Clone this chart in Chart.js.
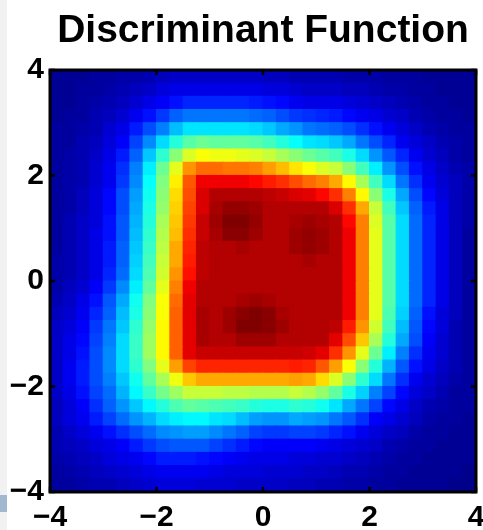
<!DOCTYPE html>
<html>
<head>
<meta charset="utf-8">
<script src="https://cdn.jsdelivr.net/npm/chart.js@4.4.1/dist/chart.umd.min.js"></script>
<style>
  html, body { margin: 0; padding: 0; background: #fff; }
  #wrap { position: relative; width: 483px; height: 530px; overflow: hidden; }
  #strip { position: absolute; left: 0; top: 0; width: 7px; height: 530px; background: #f1f1f1; }
  #block { position: absolute; left: 0; top: 495px; width: 7px; height: 17px; background: #a2b8cf; }
  canvas { position: absolute; left: 0; top: 0; }
</style>
</head>
<body>
<div id="wrap">
  <div id="strip"></div>
  <div id="block"></div>
  <canvas id="chart" width="483" height="530"></canvas>
</div>
<script>
// Discriminant function heatmap (jet colormap)

const titleText = 'Discriminant Function';
const tickValues = [-4, -2, 0, 2, 4];

// cell centres, step 0.25
const xCells = [-3.875, -3.625, -3.375, -3.125, -2.875, -2.625, -2.375, -2.125,
  -1.875, -1.625, -1.375, -1.125, -0.875, -0.625, -0.375, -0.125,
  0.125, 0.375, 0.625, 0.875, 1.125, 1.375, 1.625, 1.875,
  2.125, 2.375, 2.625, 2.875, 3.125, 3.375, 3.625, 3.875];
const yCells = [3.875, 3.625, 3.375, 3.125, 2.875, 2.625, 2.375, 2.125,
  1.875, 1.625, 1.375, 1.125, 0.875, 0.625, 0.375, 0.125,
  -0.125, -0.375, -0.625, -0.875, -1.125, -1.375, -1.625, -1.875,
  -2.125, -2.375, -2.625, -2.875, -3.125, -3.375, -3.625, -3.875];

// function value (0-100), one row per yCells entry, top row first
const z = [
  [2,2,2,3,3,4,4,5,6,7,7,7,7,7,7,7,6,6,5,5,5,5,4,4,4,3,3,3,2,2,2,2],
  [2,2,3,3,4,5,6,7,9,10,10,10,10,10,10,10,9,9,8,7,7,7,6,6,5,4,4,3,3,2,2,2],
  [2,2,3,4,5,6,8,10,12,14,16,16,16,16,16,15,14,13,11,10,10,10,9,8,7,6,5,4,3,3,2,2],
  [2,3,3,5,6,8,11,14,18,22,24,24,24,24,24,23,22,20,18,17,16,15,13,11,10,8,7,5,4,3,3,2],
  [3,3,4,5,8,10,15,20,25,31,35,35,35,35,35,34,32,29,27,24,23,22,20,17,14,11,9,7,5,4,3,3],
  [3,3,5,6,9,12,19,26,34,41,46,48,47,47,47,46,44,41,38,35,34,32,29,24,20,16,11,9,7,5,4,3],
  [3,4,5,7,10,15,22,32,42,51,59,62,61,61,60,59,57,54,51,48,46,44,40,34,27,21,16,11,8,6,4,3],
  [3,4,5,8,11,17,25,36,48,60,73,77,77,76,76,75,72,69,65,62,59,57,51,44,36,27,20,14,10,7,5,4],
  [3,4,5,8,11,18,26,38,50,64,79,89,89,89,89,87,85,83,80,77,75,71,63,54,44,34,24,17,11,8,6,4],
  [3,4,6,9,13,20,28,39,51,66,80,91,95,95,95,95,94,93,91,90,87,83,75,63,51,40,29,20,13,9,6,4],
  [3,4,6,9,13,20,29,40,52,67,81,91,96,98,98,97,95,95,95,95,95,91,83,71,57,44,32,22,15,10,6,4],
  [3,5,7,9,14,21,30,41,54,68,82,93,97,100,100,98,95,95,96,97,96,95,87,75,59,46,34,23,16,10,6,4],
  [3,5,7,10,14,21,31,42,55,69,83,93,96,99,99,97,95,95,97,98,97,95,89,75,60,46,34,23,16,10,6,3],
  [3,5,7,10,15,22,32,43,56,71,84,94,95,95,96,95,95,95,97,98,97,95,89,75,60,46,34,23,16,10,6,3],
  [4,5,7,10,15,22,33,44,57,71,85,94,95,95,95,95,95,95,95,96,95,95,89,75,60,46,34,23,16,10,6,3],
  [4,5,7,10,16,23,34,45,58,73,86,94,95,95,95,95,95,95,95,95,95,95,89,75,60,46,34,23,16,10,6,3],
  [4,6,8,12,18,26,36,47,60,75,89,95,95,95,95,95,95,95,95,95,95,95,89,75,60,46,34,23,16,10,6,3],
  [5,7,10,14,21,29,39,50,62,77,90,95,95,95,96,97,96,95,95,95,95,95,89,75,60,46,34,23,16,10,6,3],
  [6,8,11,16,22,31,40,51,62,78,90,96,95,97,99,100,99,96,95,95,95,95,89,75,60,45,33,22,14,9,6,3],
  [7,9,12,18,24,32,42,52,63,78,90,96,95,97,100,100,99,97,95,95,95,94,85,73,58,44,31,21,13,9,5,3],
  [7,10,13,19,25,34,43,53,63,78,90,96,95,95,97,97,97,95,95,95,95,90,80,68,54,41,29,20,12,8,5,3],
  [7,10,14,20,26,34,43,53,63,78,90,93,93,93,93,93,93,93,93,92,90,83,73,60,48,36,25,17,11,8,5,3],
  [7,11,15,20,26,34,42,50,60,72,81,84,84,84,84,84,84,84,85,84,79,72,62,51,41,30,21,14,10,7,5,3],
  [7,11,15,20,25,32,39,47,54,61,68,71,71,71,71,71,71,71,72,71,66,59,51,42,34,24,17,11,8,6,4,3],
  [7,10,14,19,23,30,37,43,49,53,57,57,57,56,56,55,55,55,57,55,52,47,40,33,25,19,13,9,7,5,3,3],
  [6,9,12,17,22,27,32,37,41,45,47,46,45,44,43,41,40,40,42,41,39,35,29,24,19,13,10,7,5,4,3,3],
  [6,9,11,15,19,23,27,30,34,36,37,37,35,34,31,28,27,27,29,28,27,24,21,17,12,10,8,6,4,3,3,2],
  [5,7,9,11,14,17,20,23,26,27,28,28,26,24,22,19,18,18,19,19,18,16,14,11,9,7,6,4,3,3,2,2],
  [5,6,7,9,10,12,15,18,20,21,21,21,19,17,15,13,12,12,12,12,11,10,9,8,7,5,4,3,3,2,2,2],
  [4,5,6,7,9,10,11,13,15,15,15,14,13,12,11,10,10,10,9,9,8,8,7,6,5,4,3,3,2,2,2,2],
  [3,4,5,6,7,8,9,10,11,11,11,11,10,9,9,9,8,8,8,7,7,6,5,5,4,3,3,2,2,2,2,1],
  [3,3,4,5,5,6,7,8,9,9,9,8,8,8,7,7,7,7,6,6,5,5,4,4,3,3,2,2,2,2,1,1]
];

// MATLAB-style jet colormap
function jet(t) {
  const f = k => Math.round(255 * Math.min(1, Math.max(0, 1.5 - Math.abs(4 * t - k))));
  return `rgb(${f(3)},${f(2)},${f(1)})`;
}

const points = [];
const colors = [];
yCells.forEach((y, r) => {
  xCells.forEach((x, c) => {
    points.push({ x: x, y: y });
    colors.push(jet(z[r][c] / 100));
  });
});

// one cell = 0.25 in data units, sized from the scales
function cellRadius(ctx) {
  const xs = ctx.chart.scales.x;
  const ys = ctx.chart.scales.y;
  const w = Math.abs(xs.getPixelForValue(0.25) - xs.getPixelForValue(0));
  const h = Math.abs(ys.getPixelForValue(0.25) - ys.getPixelForValue(0));
  return (Math.max(w, h) + 1) / Math.SQRT2;
}

// black box with inward ticks
const framePlugin = {
  id: 'frame',
  afterDatasetsDraw(chart) {
    const { ctx, chartArea: a, scales } = chart;
    ctx.save();
    ctx.strokeStyle = '#000';
    ctx.lineWidth = 3;
    ctx.strokeRect(a.left, a.top, a.right - a.left, a.bottom - a.top);
    ctx.lineWidth = 2.5;
    ctx.beginPath();
    tickValues.forEach(v => {
      const px = scales.x.getPixelForValue(v);
      const py = scales.y.getPixelForValue(v);
      ctx.moveTo(px, a.bottom); ctx.lineTo(px, a.bottom - 5);
      ctx.moveTo(px, a.top); ctx.lineTo(px, a.top + 5);
      ctx.moveTo(a.left, py); ctx.lineTo(a.left + 5, py);
      ctx.moveTo(a.right, py); ctx.lineTo(a.right - 5, py);
    });
    ctx.stroke();
    ctx.restore();
  }
};

const fmt = v => (v < 0 ? '\u2212' + Math.abs(v) : String(v));
const tickFont = { family: "'Liberation Sans', Arial, sans-serif", size: 30, weight: 'bold' };

new Chart(document.getElementById('chart'), {
  type: 'scatter',
  data: {
    datasets: [{
      data: points,
      backgroundColor: colors,
      pointStyle: 'rect',
      rotation: 0,
      pointRadius: cellRadius,
      pointHoverRadius: cellRadius,
      pointBorderWidth: 0,
      borderWidth: 0,
      clip: 0
    }]
  },
  options: {
    responsive: false,
    animation: false,
    events: [],
    layout: { padding: { left: 0, right: 7, top: 0, bottom: 0 } },
    plugins: {
      legend: { display: false },
      tooltip: { enabled: false },
      title: {
        display: true,
        text: titleText,
        fullSize: false,
        color: '#000',
        font: { family: "'Liberation Sans', Arial, sans-serif", size: 39, weight: 'bold', lineHeight: 1.2 },
        padding: { top: 7.5, bottom: 15.7 }
      }
    },
    scales: {
      x: {
        type: 'linear',
        min: -4,
        max: 4,
        grid: { display: false, drawTicks: false },
        border: { display: false },
        ticks: { stepSize: 2, autoSkip: false, maxRotation: 0, padding: 8, color: '#000', font: tickFont, callback: fmt },
        afterFit: s => { s.height = 38; s.paddingLeft = 0; s.paddingRight = 0; }
      },
      y: {
        type: 'linear',
        min: -4,
        max: 4,
        grid: { display: false, drawTicks: false },
        border: { display: false },
        ticks: { stepSize: 2, autoSkip: false, padding: 6, color: '#000', font: tickFont, callback: fmt },
        afterFit: s => { s.width = 50; s.paddingTop = 0; s.paddingBottom = 0; }
      }
    }
  },
  plugins: [framePlugin]
});
</script>
</body>
</html>
